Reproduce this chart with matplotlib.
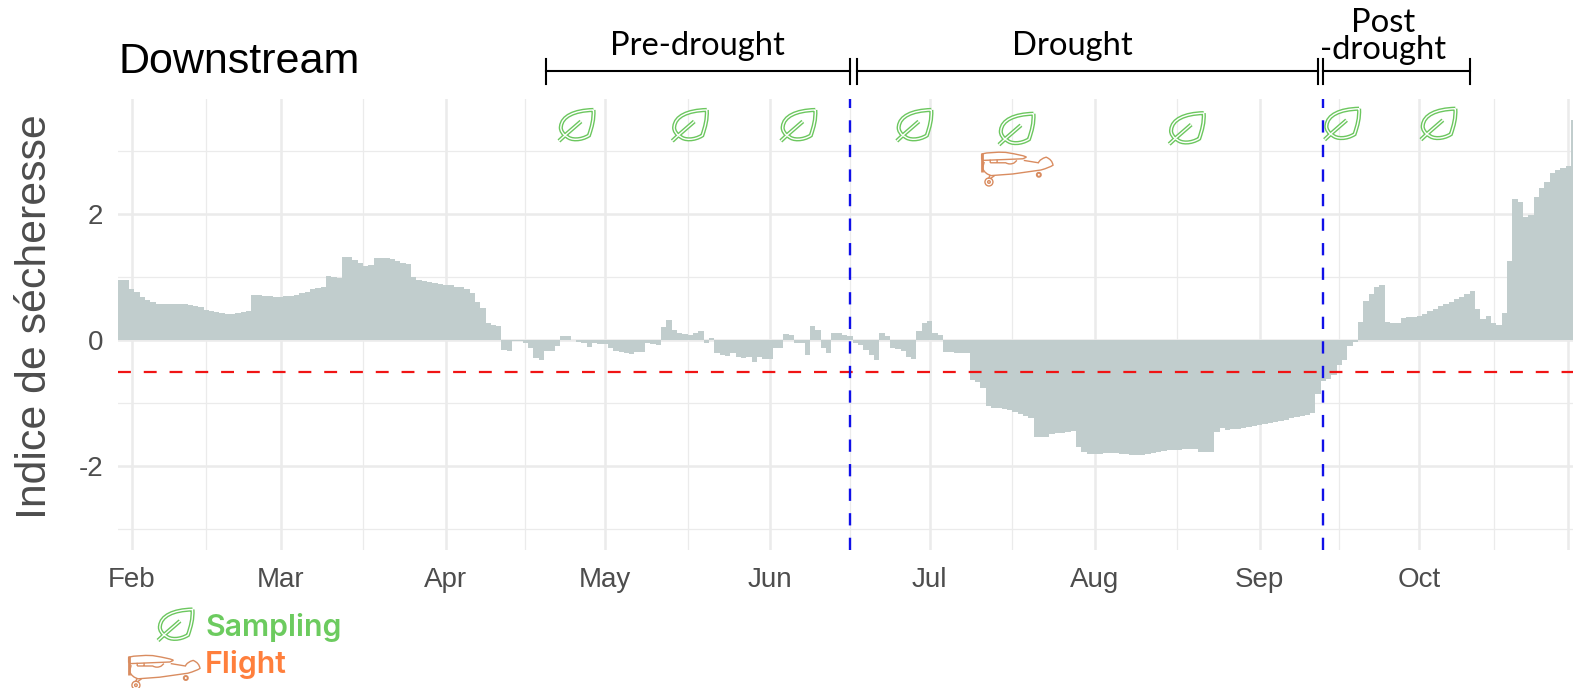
"""
Drought index for the downstream site, with sampling dates and the flight date
drawn as small outline icons above the bars.
"""

import numpy as np
import matplotlib.pyplot as plt
from matplotlib.patches import PathPatch, Circle
from matplotlib.path import Path
from matplotlib.transforms import Affine2D

W, H = 1573, 688
BAR_COLOR = "#C1CDCD"
GRID_COLOR = "#EBEBEB"
TEXT_GREY = "#4D4D4D"
LEAF_GREEN = "#6CC75F"
PLANE_COLOR = "#D98C60"

# one value per day, first bar sits two days before 1 Feb
first_day = -2
drought_index = [
    0.96, 0.95, 0.81, 0.76, 0.69, 0.64, 0.61, 0.58, 0.57, 0.57, 0.58, 0.58, 0.57, 0.56,
    0.545, 0.53, 0.48, 0.465, 0.455, 0.44, 0.42, 0.42, 0.43, 0.445, 0.465, 0.72, 0.72,
    0.71, 0.70, 0.69, 0.69, 0.70, 0.70, 0.72, 0.745, 0.77, 0.81, 0.83, 0.85, 1.02, 1.01,
    0.99, 1.32, 1.32, 1.275, 1.23, 1.185, 1.195, 1.31, 1.31, 1.305, 1.285, 1.255,
    1.23, 1.205, 1.0, 0.96, 0.94, 0.92, 0.905, 0.89, 0.88, 0.87, 0.85, 0.84, 0.81, 0.755,
    0.615, 0.51, 0.27, 0.245, 0.22, -0.15, -0.165, -0.01, -0.01, -0.05, -0.13,
    -0.285, -0.31, -0.165, -0.165, -0.09, 0.07, 0.06, 0.005, -0.03, -0.05, -0.10, -0.04, -0.06,
    -0.06, -0.13, -0.17, -0.19, -0.21, -0.22, -0.19, -0.19, -0.05, -0.06, -0.08,
    0.21, 0.32, 0.16, 0.12, 0.10, 0.09, 0.12, 0.14, -0.04, 0.04, -0.2, -0.24, -0.25,
    -0.21, -0.26, -0.28, -0.27, -0.34, -0.27, -0.29, -0.30, -0.13, -0.13, 0.10, 0.08,
    -0.04, -0.05, -0.23, 0.22, 0.17, -0.13, -0.21, 0.12, 0.11, 0.09, 0.06, -0.04, -0.07,
    -0.15, -0.23, -0.32, 0.11, 0.07, -0.12, -0.14, -0.17, -0.26, -0.29, 0.14, 0.28, 0.31,
    0.12, 0.08, -0.18, -0.18, -0.21, -0.20, -0.20, -0.63, -0.66, -0.76, -1.05, -1.07,
    -1.08, -1.09, -1.11, -1.14, -1.17, -1.21, -1.24, -1.54, -1.54, -1.54, -1.49, -1.48,
    -1.47, -1.455, -1.445, -1.70, -1.78, -1.81, -1.81, -1.80, -1.79, -1.79, -1.79, -1.80,
    -1.80, -1.825, -1.825, -1.815, -1.80, -1.79, -1.78, -1.76, -1.75, -1.74, -1.735,
    -1.73, -1.73, -1.73, -1.77, -1.78, -1.78, -1.45, -1.40, -1.42, -1.415, -1.405, -1.39,
    -1.375, -1.36, -1.345, -1.33, -1.32, -1.30, -1.28, -1.26, -1.24, -1.22, -1.20, -1.18,
    -1.16, -0.85, -0.64, -0.62, -0.55, -0.39, -0.31, -0.09, -0.03, 0.29, 0.63, 0.74, 0.85,
    0.87, 0.29, 0.27, 0.28, 0.35, 0.37, 0.37, 0.385, 0.41, 0.47, 0.50, 0.54, 0.57, 0.61,
    0.65, 0.69, 0.74, 0.78, 0.50, 0.34, 0.39, 0.28, 0.25, 0.44, 1.26, 2.24, 2.20, 1.96,
    1.99, 2.28, 2.41, 2.51, 2.65, 2.71, 2.74, 2.77, 3.49,
]

month_days = [0, 28, 59, 89, 120, 150, 181, 212, 242, 270]
month_labels = ["Feb", "Mar", "Apr", "May", "Jun", "Jul", "Aug", "Sep", "Oct", ""]
mid_month_days = [14, 43.5, 74, 104.5, 135, 165.5, 196.5, 227, 256]

drought_threshold = -0.5
phase_limits = [135, 224]
phase_names = ["Pre-drought", "Drought", "Post\n-drought"]
phase_starts = [77.9, 136.3, 224.0]
phase_ends = [135, 222.9, 251.5]

sampling_days = [83.5, 104.8, 125.2, 147, 166.2, 198.2, 227.4, 245.5]
sampling_heights = [3.41, 3.41, 3.41, 3.41, 3.35, 3.36, 3.43, 3.43]
flight_days = [166.4]
flight_heights = [2.73]

plt.rcParams["font.family"] = ["Liberation Sans", "DejaVu Sans"]

fig = plt.figure(figsize=(W / 100, H / 100), dpi=100, facecolor="white")
ax = fig.add_axes([118.4 / W, 1 - 550 / H, (W - 118.4) / W, 451 / H])

days = first_day + np.arange(len(drought_index))
ax.bar(days, drought_index, width=1.0, color=BAR_COLOR, linewidth=0, zorder=2)

ax.set_xlim(-2.5, 270.9)
ax.set_ylim(-3.33, 3.83)

ax.set_xticks(month_days)
ax.set_xticklabels(month_labels)
ax.set_xticks(mid_month_days, minor=True)
ax.set_yticks([-2, 0, 2])
ax.set_yticklabels(["-2", "0", "2"])
ax.set_yticks([-3, -1, 1, 3], minor=True)
ax.set_axisbelow(True)
ax.grid(which="major", color=GRID_COLOR, linewidth=1.8)
ax.grid(which="minor", color=GRID_COLOR, linewidth=0.9)
ax.tick_params(which="both", length=0)
ax.tick_params(axis="x", which="major", labelsize=20, labelcolor=TEXT_GREY, pad=12)
ax.tick_params(axis="y", which="major", labelsize=20, labelcolor=TEXT_GREY, pad=11)
for spine in ax.spines.values():
    spine.set_visible(False)

ax.axhline(drought_threshold, color="#F01414", linewidth=1.6, linestyle=(0, (5.8, 5.8)), zorder=3)
for day in phase_limits:
    ax.axvline(day, color="#1010E8", linewidth=1.7, linestyle=(0, (5.2, 5.2)), zorder=4)

# phase brackets above the panel
bracket_y = 4.27
for start, end in zip(phase_starts, phase_ends):
    ax.plot([start, end], [bracket_y, bracket_y], color="black", linewidth=1.5,
            clip_on=False, zorder=5)
    for x in (start, end):
        ax.plot([x, x], [bracket_y - 0.2, bracket_y + 0.2], color="black", linewidth=1.5,
                clip_on=False, zorder=5)


def fig_text(x, y, s, **kwargs):
    # x, y in image pixels, y counted from the top
    return fig.text(x / W, 1 - y / H, s, **kwargs)


fig_text(119, 73, "Downstream", fontsize=31, color="black", ha="left", va="baseline")
fig_text(35, 317, "Indice de sécheresse", fontsize=30.8, color=TEXT_GREY, rotation=90,
         ha="center", va="center")

phase_font = dict(family=["Lato", "DejaVu Sans"], fontsize=23.6, color="black", ha="center")
fig_text(697, 54.7, phase_names[0], va="baseline", **phase_font)
fig_text(1072, 54.7, phase_names[1], va="baseline", **phase_font)
fig_text(1383, 32, phase_names[2].split("\n")[0], va="baseline", **phase_font)
fig_text(1383, 59, phase_names[2].split("\n")[1], va="baseline", **phase_font)

legend_font = dict(family=["Inter", "DejaVu Sans"], fontsize=21.8, fontweight="semibold",
                   ha="left", va="baseline")
fig_text(206, 636, "Sampling", color="#6CCB5F", **legend_font)
fig_text(205, 673, "Flight", color="#FF7F3C", **legend_font)

# leaf icon, in pixels around its centre (y up)
LEAF_BODY = Path(
    [(17.5, 15.5), (-2, 15), (-14, 9), (-15, -1), (-16, -5), (-12, -10), (-9, -11),
     (-5, -15), (5, -15), (13, -10), (16, -1), (18, 6), (17.5, 15.5)],
    [Path.MOVETO] + [Path.CURVE4] * 12,
)
LEAF_STEM = Path([(-17, -15.5), (-10, -9), (5, 4)], [Path.MOVETO, Path.LINETO, Path.LINETO])

# plane icon, in pixels around its centre (y up)
PLANE_WING = Path(
    [(-33, 11), (-22, 14), (-5, 13), (18, 9), (19, 7), (15, 5), (-31, 3), (-33, 5), (-33, 11)],
    [Path.MOVETO, Path.CURVE3, Path.CURVE3, Path.CURVE3, Path.CURVE3, Path.LINETO,
     Path.LINETO, Path.LINETO, Path.LINETO],
)
PLANE_BODY = Path(
    [(16, 3), (33, 0), (35, 5), (42, 7), (49, 4), (50, -3), (46, -6), (36, -9), (3, -14),
     (-22, -16), (-29, -14), (-32, -7), (-30, 1)],
    [Path.MOVETO, Path.LINETO, Path.CURVE3, Path.CURVE3, Path.CURVE3, Path.CURVE3,
     Path.CURVE3, Path.CURVE3, Path.LINETO, Path.LINETO, Path.CURVE3, Path.CURVE3, Path.LINETO],
)
PLANE_WINDOWS = Path(
    [(-23, 4), (-23, 0), (-15, 4), (-15, 0), (-23, 0), (-5, 0), (0, -3), (5, 0), (8, 3)],
    [Path.MOVETO, Path.LINETO, Path.MOVETO, Path.LINETO, Path.MOVETO, Path.LINETO,
     Path.CURVE3, Path.CURVE3, Path.LINETO],
)
PLANE_PROP = Path([(-33, 12), (-33, -11)], [Path.MOVETO, Path.LINETO])
PLANE_GEAR = Path([(-23, -15), (-25, -20), (-18, -16), (-23, -20)],
                  [Path.MOVETO, Path.LINETO, Path.MOVETO, Path.LINETO])
PLANE_SX, PLANE_SY = 0.86, 0.8


def add_path(path, transform, color, lw, zorder=6):
    patch = PathPatch(path, transform=transform, facecolor="none", edgecolor=color,
                      linewidth=lw, zorder=zorder, clip_on=False, capstyle="butt")
    fig.add_artist(patch)


def draw_leaf(px, py):
    # thick green stroke with a white core gives the double outline
    shift = Affine2D().translate(px, py)
    for path in (LEAF_BODY, LEAF_STEM):
        add_path(path, shift, LEAF_GREEN, 3.0)
    for path in (LEAF_BODY, LEAF_STEM):
        add_path(path, shift, "white", 1.0)


def draw_plane(px, py):
    # the drawing is off centre, px and py are the middle of the whole icon
    px, py = px - 7, py + 5.5
    shift = Affine2D().scale(PLANE_SX, PLANE_SY).translate(px, py)
    for path in (PLANE_WING, PLANE_BODY, PLANE_WINDOWS, PLANE_GEAR):
        add_path(path, shift, PLANE_COLOR, 1.0)
    add_path(PLANE_PROP, shift, PLANE_COLOR, 2.0)
    for dx, dy, r, lw in [(-24.5, -24, 4, 1.0), (-24.5, -24, 1.3, 1.0), (33.5, -15, 2, 1.4)]:
        center = (px + dx * PLANE_SX, py + dy * PLANE_SY)
        fig.add_artist(Circle(center, r, transform=Affine2D(), facecolor="none",
                              edgecolor=PLANE_COLOR, linewidth=lw, zorder=6, clip_on=False))


for day, height in zip(sampling_days, sampling_heights):
    draw_leaf(*ax.transData.transform((day, height)))
for day, height in zip(flight_days, flight_heights):
    draw_plane(*ax.transData.transform((day, height)))

# legend icons sit below the axis
draw_leaf(175, H - 625)
draw_plane(164, H - 671.5)

fig.savefig("out.png", dpi=100, facecolor="white")
print(len(drought_index))
